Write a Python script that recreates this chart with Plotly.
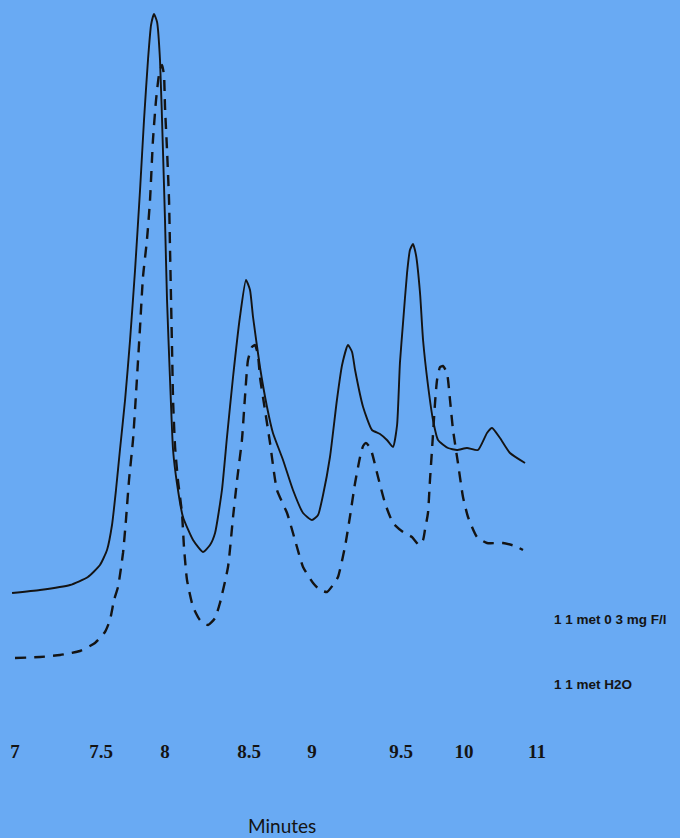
import numpy as np
import plotly.graph_objects as go

# ---- data (retention time in minutes, detector response in arbitrary units) ----
fluoride_min = [6.983, 7.145, 7.320, 7.424, 7.494, 7.547, 7.586, 7.617, 7.648, 7.688,
                7.727, 7.766, 7.805, 7.836, 7.867, 7.891, 7.914, 7.938, 7.961, 7.984,
                8.000, 8.012, 8.030, 8.048, 8.071, 8.107, 8.167, 8.226, 8.268, 8.298,
                8.339, 8.369, 8.405, 8.446, 8.482, 8.508, 8.532, 8.587, 8.643, 8.690,
                8.770, 8.849, 8.929, 9.000, 9.034, 9.062, 9.101, 9.140, 9.169, 9.202,
                9.225, 9.242, 9.287, 9.337, 9.382, 9.421, 9.455, 9.478, 9.494, 9.516,
                9.548, 9.571, 9.595, 9.619, 9.651, 9.675, 9.714, 9.754, 9.794, 9.873,
                9.944, 10.041, 10.192, 10.315, 10.384, 10.493, 10.630, 10.836]
fluoride_resp = [10.7, 11.0, 11.5, 12.3, 13.5, 15.0, 17.5, 21.0, 25.0, 30.0,
                 36.0, 43.0, 51.0, 58.0, 64.0, 67.5, 68.6, 67.8, 64.0, 55.0,
                 48.0, 40.0, 32.0, 25.0, 21.7, 18.3, 16.0, 14.8, 15.5, 16.7,
                 21.0, 26.3, 32.3, 38.3, 42.0, 41.0, 38.3, 33.3, 29.3, 26.7,
                 24.0, 21.0, 18.7, 18.0, 18.5, 20.5, 24.3, 30.0, 33.5, 35.5,
                 34.8, 33.0, 29.3, 27.0, 26.6, 26.0, 25.3, 27.5, 33.7, 37.7,
                 42.7, 45.0, 45.6, 44.5, 40.7, 36.0, 31.5, 28.0, 26.0, 25.2,
                 25.0, 25.2, 25.0, 26.7, 27.2, 26.2, 24.7, 23.7]

water_min = [7.000, 7.145, 7.262, 7.378, 7.465, 7.531, 7.570, 7.602, 7.633, 7.672,
             7.695, 7.719, 7.750, 7.773, 7.805, 7.828, 7.859, 7.883, 7.906, 7.930,
             7.953, 7.977, 7.992, 8.000, 8.012, 8.024, 8.030, 8.036, 8.042, 8.048,
             8.060, 8.077, 8.101, 8.113, 8.131, 8.167, 8.208, 8.256, 8.298, 8.327,
             8.375, 8.405, 8.429, 8.458, 8.476, 8.494, 8.524, 8.548, 8.571, 8.587,
             8.627, 8.667, 8.722, 8.802, 8.865, 8.929, 9.006, 9.045, 9.084, 9.118,
             9.146, 9.185, 9.213, 9.242, 9.270, 9.287, 9.303, 9.320, 9.337, 9.371,
             9.410, 9.455, 9.516, 9.587, 9.643, 9.675, 9.690, 9.714, 9.730, 9.746,
             9.770, 9.786, 9.810, 9.833, 9.865, 9.889, 9.913, 9.952, 9.992, 10.055,
             10.178, 10.315, 10.534, 10.699, 10.808]
water_resp = [4.2, 4.3, 4.5, 4.9, 5.7, 6.8, 8.0, 10.0, 11.3, 14.7,
              18.0, 22.0, 26.0, 30.5, 37.3, 42.3, 46.0, 50.0, 56.0, 60.0,
              62.5, 63.5, 62.5, 59.3, 55.0, 50.0, 45.0, 40.0, 35.0, 30.0,
              25.3, 22.0, 18.7, 15.3, 12.0, 9.3, 8.0, 7.5, 8.2, 9.7,
              13.3, 18.3, 22.0, 26.0, 30.3, 34.0, 35.3, 35.5, 34.5, 32.3,
              29.0, 25.7, 21.0, 18.7, 16.0, 13.3, 11.7, 11.0, 10.8, 11.5,
              12.3, 15.3, 18.3, 21.7, 24.3, 25.4, 25.7, 25.4, 24.7, 22.3,
              19.7, 17.7, 16.8, 16.3, 15.5, 16.0, 17.0, 18.7, 22.0, 25.0,
              29.7, 32.0, 33.3, 33.4, 32.7, 30.0, 27.0, 23.7, 20.3, 18.3,
              16.3, 15.7, 15.7, 15.4, 15.0]

tick_minutes = [7, 7.5, 8, 8.5, 9, 9.5, 10, 11]
tick_labels = ["7", "7.5", "8", "8.5", "9", "9.5", "10", "11"]

series_names = ["1 1 met 0 3 mg F/l", "1 1 met H2O"]

# ---- layout: the printed time axis is not evenly spaced; map minutes onto it ----
axis_stops = [15, 101, 165, 249, 312, 401, 464, 537]  # where each printed tick sits


def warp(m):
    m = np.asarray(m, dtype=float)
    out = np.interp(m, tick_minutes, axis_stops)
    lo = m < tick_minutes[0]
    out[lo] = axis_stops[0] + (m[lo] - tick_minutes[0]) * (axis_stops[1] - axis_stops[0]) / 0.5
    return out


BG = "#69aaf3"
INK = "#141414"

fig = go.Figure()
fig.add_trace(go.Scatter(
    x=warp(fluoride_min), y=fluoride_resp, mode="lines", name=series_names[0],
    line=dict(color=INK, width=1.9, shape="spline", smoothing=0.5),
    showlegend=False, hoverinfo="skip"))
fig.add_trace(go.Scatter(
    x=warp(water_min), y=water_resp, mode="lines", name=series_names[1],
    line=dict(color=INK, width=2.4, dash="11px,8px", shape="spline", smoothing=0.5),
    showlegend=False, hoverinfo="skip"))

fig.update_layout(
    width=680, height=838,
    margin=dict(l=0, r=0, t=0, b=100),
    paper_bgcolor=BG, plot_bgcolor=BG,
    hovermode=False,
    xaxis=dict(range=[0, 680], showgrid=False, zeroline=False, showline=False,
               tickmode="array", tickvals=warp(tick_minutes), ticktext=tick_labels,
               ticks="", ticklabelstandoff=0, fixedrange=True,
               tickfont=dict(family="Liberation Serif", size=19, color=INK, weight="bold")),
    yaxis=dict(range=[-3.8, 70], showgrid=False, zeroline=False, showline=False,
               showticklabels=False, ticks="", fixedrange=True),
)

label_font = dict(family="Liberation Sans", size=13.5, color=INK, weight="bold")
fig.add_annotation(x=552, y=(700 - 619) / 10, xref="x", yref="y", text=series_names[0],
                   showarrow=False, xanchor="left", yanchor="middle", font=label_font)
fig.add_annotation(x=552, y=(700 - 684) / 10, xref="x", yref="y", text=series_names[1],
                   showarrow=False, xanchor="left", yanchor="middle", font=label_font)
fig.add_annotation(x=282, y=-0.118, xref="x", yref="paper", text="Minutes",
                   showarrow=False, xanchor="center", yanchor="middle",
                   font=dict(family="Lato", size=19, color=INK))

fig.write_html("out.html", config={"displayModeBar": False},
               post_script="document.body.style.margin='0';"
               "document.documentElement.style.background='" + BG + "';")
